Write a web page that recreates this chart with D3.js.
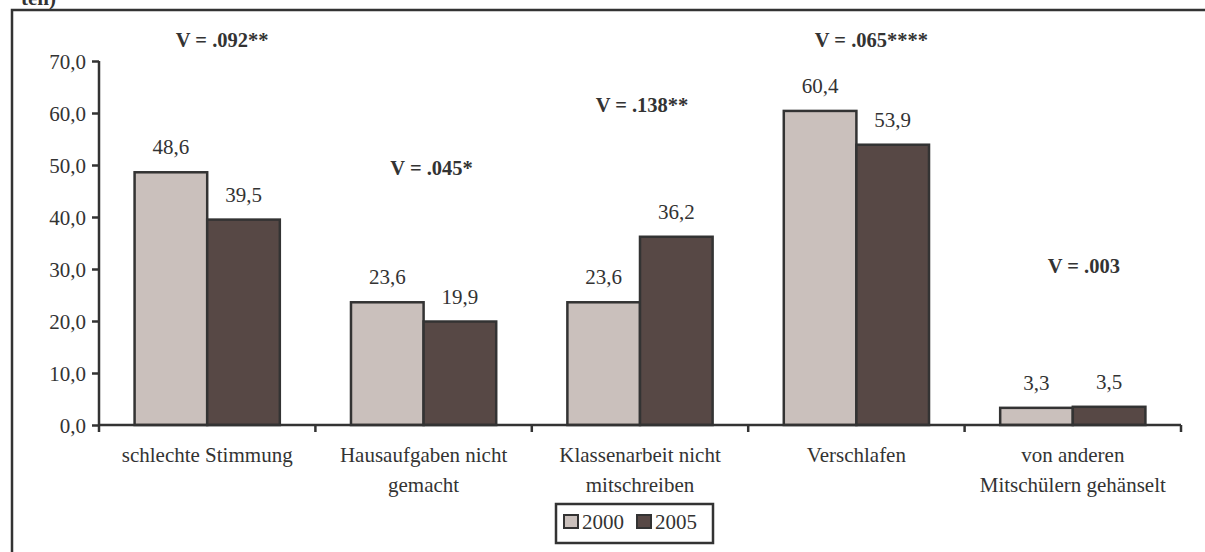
<!DOCTYPE html>
<html><head><meta charset="utf-8">
<script src="https://cdn.jsdelivr.net/npm/d3@7"></script>
<style>
body{margin:0;background:#fff;}
</style></head>
<body><svg id="c" width="1205" height="552"></svg>
<script>
const categories = [["schlechte Stimmung"],["Hausaufgaben nicht","gemacht"],["Klassenarbeit nicht","mitschreiben"],["Verschlafen"],["von anderen","Mitschülern gehänselt"]];
const series = ["2000","2005"];
const values2000 = [48.6, 23.6, 23.6, 60.4, 3.3];
const values2005 = [39.5, 19.9, 36.2, 53.9, 3.5];
const vLabels = ["V = .092**","V = .045*","V = .138**","V = .065****","V = .003"];
const vLevels = [72.7, 48.1, 60.2, 72.7, 29.2];
const yTicks = [0,10,20,30,40,50,60,70];

const FONT = "Liberation Serif";
const colors = {"2000":"#cac0bc","2005":"#574845"};
const vDx = [15, 8, 2, 15, 11];

const svg = d3.select("#c");
svg.append("rect").attr("x",12).attr("y",10).attr("width",1260).attr("height",600)
  .attr("fill","none").attr("stroke","#333").attr("stroke-width",2.5);
svg.append("text").attr("x",56).attr("y",5).attr("text-anchor","end")
  .style("font-family",FONT).style("fill","#333")
  .style("font-size","21px").style("font-weight","bold").text("ten)");

const x0 = d3.scaleBand().domain(d3.range(categories.length)).range([99,1181]).padding(0);
const x1 = d3.scaleBand().domain(series).range([0,x0.bandwidth()]).paddingInner(0).paddingOuter(0.49);
const y = d3.scaleLinear().domain([0,70]).range([425,61]);

const yAxis = d3.axisLeft(y).tickValues(yTicks).tickSize(7).tickPadding(6)
  .tickFormat(d=>d3.format(".1f")(d).replace(".",","));
const gy = svg.append("g").attr("transform","translate(99,0)").call(yAxis);
gy.attr("font-family",FONT).attr("font-size",21);
gy.select(".domain").attr("stroke","#333").attr("stroke-width",2.5).attr("d","M0,61V425");
gy.selectAll(".tick line").attr("stroke","#333").attr("stroke-width",2.5);
gy.selectAll(".tick text").style("font-size","21px").style("font-family",FONT).attr("fill","#333").attr("dy","0.35em");

const data = categories.map((c,i)=>({i, vals:[{s:"2000",v:values2000[i]},{s:"2005",v:values2005[i]}]}));
const g = svg.append("g");
const groups = g.selectAll("g").data(data).join("g").attr("transform",d=>`translate(${x0(d.i)},0)`);
groups.selectAll("rect").data(d=>d.vals).join("rect")
  .attr("x",d=>x1(d.s)).attr("width",x1.bandwidth())
  .attr("y",d=>y(d.v)).attr("height",d=>y(0)-y(d.v))
  .attr("fill",d=>colors[d.s]).attr("stroke","#333").attr("stroke-width",2.5);
groups.selectAll("text.val").data(d=>d.vals).join("text").attr("class","val")
  .attr("x",d=>x1(d.s)+x1.bandwidth()/2).attr("y",d=>y(d.v)-18)
  .attr("text-anchor","middle").style("font-size","21px").style("font-family",FONT).style("fill","#333")
  .text(d=>d3.format(".1f")(d.v).replace(".",","));

const gx = svg.append("g").attr("transform","translate(0,425)");
gx.append("line").attr("x1",99).attr("x2",1181).attr("stroke","#333").attr("stroke-width",2.5);
const tickXs = d3.range(categories.length+1).map(i=> i<categories.length ? x0(i) : x0(i-1)+x0.bandwidth());
gx.selectAll("line.t").data(tickXs).join("line").attr("class","t")
  .attr("x1",d=>d).attr("x2",d=>d).attr("y1",0).attr("y2",7).attr("stroke","#333").attr("stroke-width",2.5);
categories.forEach((lines,i)=>{
  const t = svg.append("text").attr("text-anchor","middle").style("font-size","21px")
    .style("font-family",FONT).style("fill","#333")
    .attr("x",x0(i)+x0.bandwidth()/2).attr("y",462);
  lines.forEach((l,j)=>t.append("tspan").attr("x",x0(i)+x0.bandwidth()/2).attr("dy",j?29.5:0).text(l));
});

vLabels.forEach((v,i)=>{
  svg.append("text").attr("x",x0(i)+x0.bandwidth()/2+vDx[i]).attr("y",y(vLevels[i]))
    .attr("text-anchor","middle").style("font-size","20.5px").style("font-weight","bold")
    .style("font-family",FONT).style("fill","#333").text(v);
});

const lg = svg.append("g");
lg.append("rect").attr("x",556).attr("y",504).attr("width",157).attr("height",39)
  .attr("fill","#fff").attr("stroke","#333").attr("stroke-width",2.5);
series.forEach((s,i)=>{
  const lx = 564 + i*73;
  lg.append("rect").attr("x",lx).attr("y",515).attr("width",14).attr("height",13)
    .attr("fill",colors[s]).attr("stroke","#333").attr("stroke-width",2);
  lg.append("text").attr("x",lx+18).attr("y",529).style("font-size","21px")
    .style("font-family",FONT).style("fill","#333").text(s);
});
</script></body></html>
